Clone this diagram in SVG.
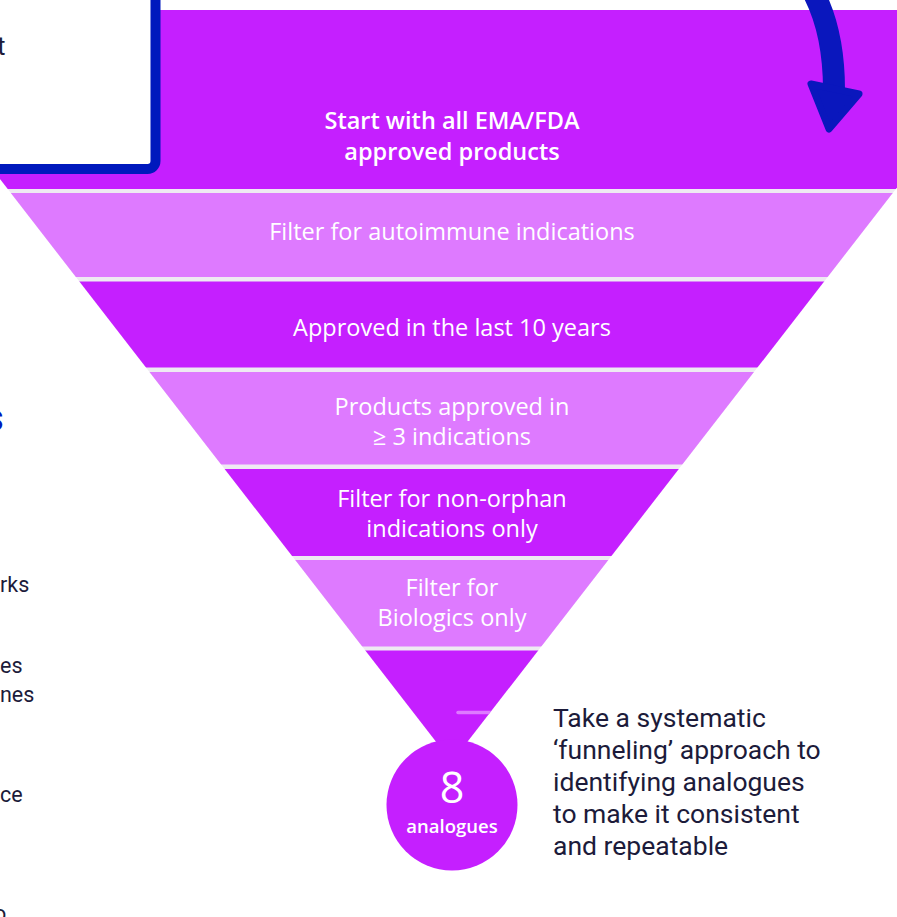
<svg xmlns="http://www.w3.org/2000/svg" width="897" height="917" viewBox="0 0 897 917">
<style>
.dark{fill:#C51FFF}
.light{fill:#DE7AFF}
.ft{font-family:"Open Sans","Liberation Sans",sans-serif;font-size:23.5px;fill:#FFFFFF;text-anchor:middle}
.ft1{font-weight:600}
.side{font-family:Roboto,"Liberation Sans",sans-serif;font-size:26.5px;fill:#1C1B3A}
.frag{font-family:Roboto,"Liberation Sans",sans-serif;font-size:21.5px;fill:#1C1B3A}
</style>
<defs>
<clipPath id="funnelClip">
<polygon points="-138.75,0 1042.25,0 451.75,762"/>
</clipPath>
</defs>
<rect width="897" height="917" fill="#FFFFFF"/>

<g id="funnel" clip-path="url(#funnelClip)">
<rect x="-200" y="10" width="1300" height="760" fill="#EEEAF2"/>
<g id="band1"><rect class="dark" x="-200" y="10" width="1300" height="179"/></g>
<g id="band2"><rect class="light" x="-200" y="193" width="1300" height="84"/></g>
<g id="band3"><rect class="dark" x="-200" y="281.5" width="1300" height="86"/></g>
<g id="band4"><rect class="light" x="-200" y="372" width="1300" height="92.5"/></g>
<g id="band5"><rect class="dark" x="-200" y="469" width="1300" height="87"/></g>
<g id="band6"><rect class="light" x="-200" y="560" width="1300" height="86.5"/></g>
<g id="band7"><rect class="dark" x="-200" y="650.5" width="1300" height="120"/>
<line x1="458" y1="712.5" x2="520" y2="712.5" stroke="#DE7AFF" stroke-width="3.5" stroke-linecap="round"/></g>
</g>

<g id="box">
<rect x="-20" y="-20" width="175.5" height="189" rx="8" fill="#FFFFFF" stroke="#0019BD" stroke-width="10"/>
<text x="-3" y="55" style="font-family:Roboto,'Liberation Sans',sans-serif;font-size:26px;fill:#1C1B3A">t</text>
</g>

<g id="arrow">
<path d="M 812,-10 Q 834,30 834,90" fill="none" stroke="#0A17BD" stroke-width="22"/>
<polygon points="811,84 859,94 829,129" fill="#0A17BD" stroke="#0A17BD" stroke-width="7" stroke-linejoin="round"/>
</g>

<g id="labels">
<text class="ft ft1" x="452" y="129">Start with all EMA/FDA</text>
<text class="ft ft1" x="452" y="160">approved products</text>
<text class="ft" x="452" y="240">Filter for autoimmune indications</text>
<text class="ft" x="452" y="336">Approved in the last 10 years</text>
<text class="ft" x="452" y="415">Products approved in</text>
<text class="ft" x="452" y="445">≥ 3 indications</text>
<text class="ft" x="452" y="507">Filter for non-orphan</text>
<text class="ft" x="452" y="537">indications only</text>
<text class="ft" x="452" y="596">Filter for</text>
<text class="ft" x="452" y="626">Biologics only</text>
</g>

<g id="result">
<circle cx="452" cy="805" r="65.5" class="dark"/>
<text class="ft" x="452" y="803" style="font-size:43px">8</text>
<text class="ft ft1" x="452" y="833" style="font-size:18.5px">analogues</text>
</g>

<g id="note">
<text class="side" x="553" y="727">Take a systematic</text>
<text class="side" x="553" y="759">‘funneling’ approach to</text>
<text class="side" x="553" y="791">identifying analogues</text>
<text class="side" x="553" y="823">to make it consistent</text>
<text class="side" x="553" y="855">and repeatable</text>
</g>

<g id="left-panel">
<text x="-16" y="431" style="font-family:Roboto,'Liberation Sans',sans-serif;font-size:38px;font-weight:700;fill:#0019BD">s</text>
<text class="frag" x="0" y="592">rks</text>
<text class="frag" x="0" y="673">es</text>
<text class="frag" x="0" y="702">nes</text>
<text class="frag" x="0" y="802">ce</text>
<text class="frag" x="-6" y="921">o</text>
</g>
</svg>
